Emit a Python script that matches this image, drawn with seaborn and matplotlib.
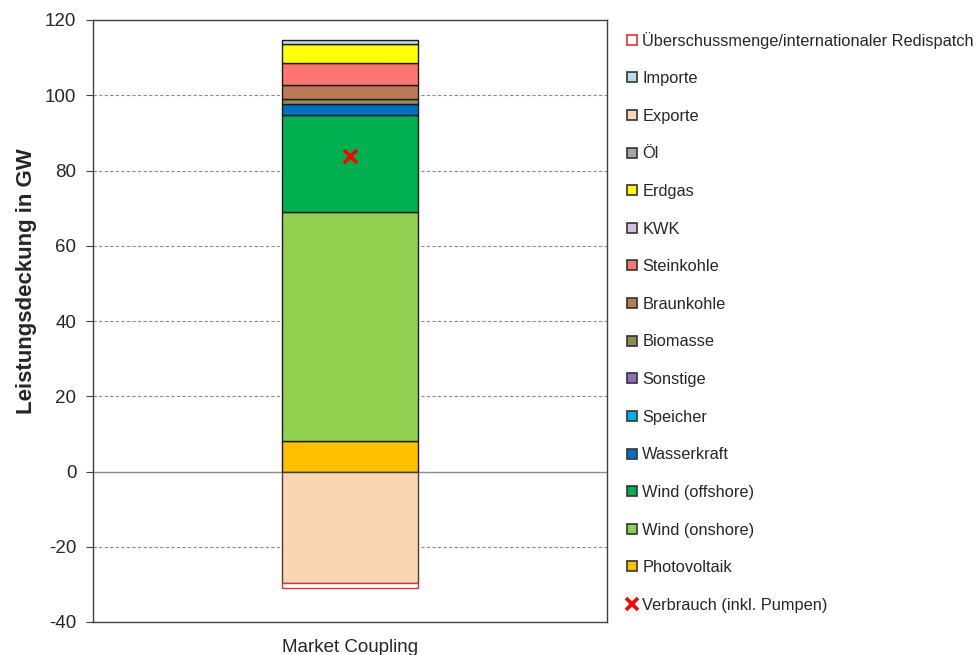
import matplotlib
matplotlib.use("Agg")
import matplotlib.pyplot as plt
from matplotlib.lines import Line2D
import seaborn as sns
import pandas as pd

sns.set_theme(style="white")
plt.rcParams["font.family"] = ["Liberation Sans", "DejaVu Sans"]
plt.rcParams["axes.unicode_minus"] = False

category = ["Market Coupling"]

# Stacked generation (positive, bottom to top) in GW
pos_names = ["Photovoltaik", "Wind (onshore)", "Wind (offshore)", "Wasserkraft",
             "Speicher", "Sonstige", "Biomasse", "Braunkohle", "Steinkohle",
             "KWK", "Erdgas", "Öl", "Importe"]
pos_values = [8.1, 60.9, 25.8, 2.9, 0.0, 0.0, 1.2, 3.7, 6.0, 0.0, 4.9, 0.0, 1.3]
pos_colors = ["#FFC000", "#92D050", "#00B050", "#0070C0", "#00B0F0", "#8E6CC4",
              "#938953", "#B97A57", "#FF7575", "#CCC0DA", "#FFFF00", "#A6A6A6",
              "#B7DEE8"]

# Negative side (top to bottom) in GW
neg_names = ["Exporte", "Überschussmenge/internationaler Redispatch"]
neg_values = [-29.7, -1.3]
neg_colors = ["#FCD5B5", "#FFFFFF"]
neg_edges = ["#404040", "#E03030"]

verbrauch = [83.9]

legend_order = ["Überschussmenge/internationaler Redispatch", "Importe", "Exporte",
                "Öl", "Erdgas", "KWK", "Steinkohle", "Braunkohle", "Biomasse",
                "Sonstige", "Speicher", "Wasserkraft", "Wind (offshore)",
                "Wind (onshore)", "Photovoltaik"]

fig = plt.figure(figsize=(9.76, 6.55), dpi=100)
ax = fig.add_axes([93 / 976, 1 - 622 / 655, 514 / 976, 602 / 655])

bar_w = 0.263
df_cat = pd.DataFrame({"cat": category})

# Grid lines
for y in [100, 80, 60, 40, 20, -20]:
    ax.axhline(y, color="#8C8C8C", lw=0.8, ls=(0, (3, 2)), zorder=0)
ax.axhline(0, color="#8C8C8C", lw=1.0, zorder=0.5)

bottom = 0.0
for name, val, col in zip(pos_names, pos_values, pos_colors):
    if val > 0:
        sns.barplot(data=df_cat.assign(v=[val]), x="cat", y="v", bottom=bottom,
                    color=col, width=bar_w, edgecolor="#1A1A1A", linewidth=1.0,
                    saturation=1, ax=ax, zorder=2)
    bottom += val

bottom = 0.0
for name, val, col, ec in zip(neg_names, neg_values, neg_colors, neg_edges):
    sns.barplot(data=df_cat.assign(v=[val]), x="cat", y="v", bottom=bottom,
                color=col, width=bar_w, edgecolor=ec, linewidth=1.0,
                saturation=1, ax=ax, zorder=2)
    bottom += val

sns.scatterplot(x=category, y=verbrauch, marker="x", s=90, color="#FF0000",
                linewidth=2.6, ax=ax, zorder=5)

ax.set_xlim(-0.5, 0.5)
ax.set_ylim(-40, 120)
ax.set_yticks(range(-40, 121, 20))
ax.set_ylabel("Leistungsdeckung in GW", fontsize=16, fontweight="bold")
ax.yaxis.set_label_coords(-0.109, 0.566)
ax.set_xlabel("")
ax.tick_params(axis="y", labelsize=13.5, length=5, width=0.8, color="#404040",
               direction="out", left=True, pad=7)
ax.tick_params(axis="x", labelsize=13.5, length=0, pad=12)
for s in ax.spines.values():
    s.set_color("#404040")
    s.set_linewidth(1.0)

# Legend
color_map = dict(zip(pos_names, pos_colors))
color_map.update(dict(zip(neg_names, neg_colors)))
handles = []
for name in legend_order:
    ec = "#E03030" if name.startswith("Über") else "#333333"
    handles.append(Line2D([], [], ls="none", marker="s", markersize=7.5,
                          markerfacecolor=color_map[name], markeredgecolor=ec,
                          markeredgewidth=1.2, label=name))
handles.append(Line2D([], [], ls="none", marker="x", markersize=8,
                      markeredgecolor="#FF0000", markeredgewidth=2.6,
                      label="Verbrauch (inkl. Pumpen)"))
fig.legend(handles=handles, loc="upper left", bbox_to_anchor=(620 / 976, 1 - 25 / 655),
           frameon=False, fontsize=11.8, handlelength=0.7, handletextpad=0.25,
           labelspacing=1.38, borderaxespad=0)

fig.savefig("out.png", dpi=100)
